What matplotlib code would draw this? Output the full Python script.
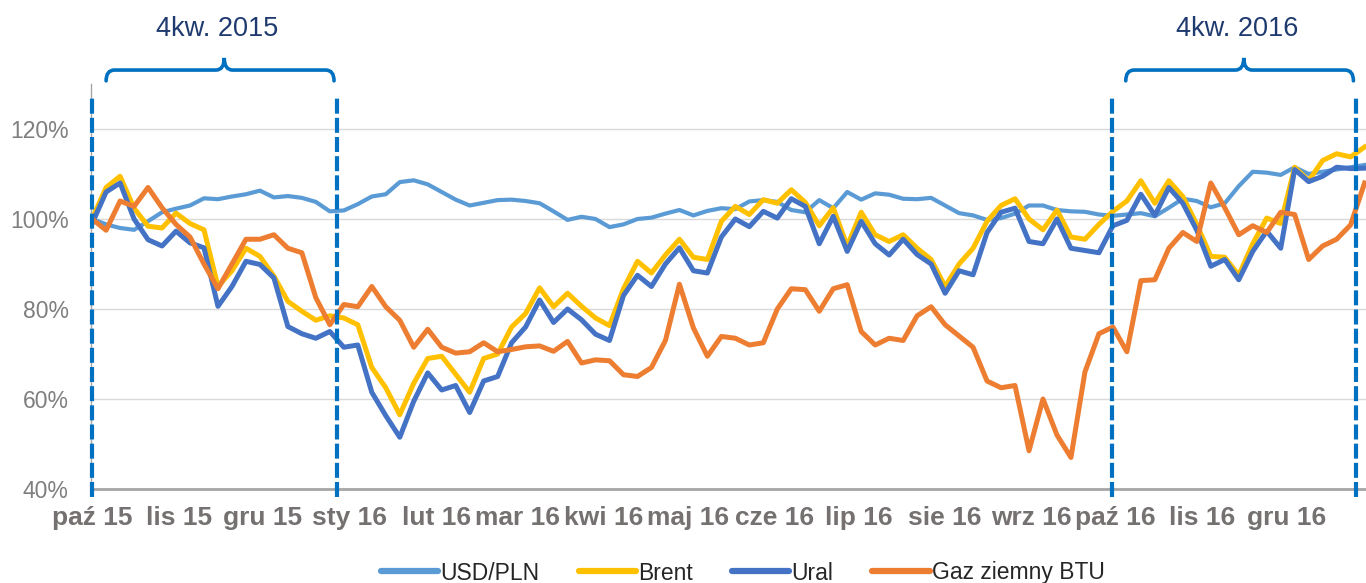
import matplotlib
matplotlib.use("Agg")
from matplotlib import pyplot as plt
from matplotlib.path import Path
from matplotlib.patches import PathPatch
import matplotlib.dates as mdates
import numpy as np
import pandas as pd

# values, one every 5 days from 1 Oct 2015
start = pd.Timestamp("2015-10-01")
step_days = 5

usd_pln = [100.0, 98.8, 98.0, 97.6, 99.5, 101.5, 102.3, 103.0, 104.6, 104.4,
           105.0, 105.5, 106.3, 104.8, 105.1, 104.7, 103.8, 101.7, 101.9, 103.3,
           105.0, 105.5, 108.2, 108.6, 107.7, 106.0, 104.3, 103.0, 103.6, 104.2,
           104.3, 104.0, 103.5, 101.7, 99.8, 100.5, 100.0, 98.2, 98.8, 100.0,
           100.3, 101.2, 102.0, 100.8, 101.8, 102.4, 102.2, 103.9, 104.2, 103.8,
           102.0, 101.5, 104.2, 102.4, 106.0, 104.3, 105.7, 105.4, 104.5, 104.4,
           104.7, 103.0, 101.3, 100.8, 99.8, 100.2, 101.2, 103.0, 103.0, 102.0,
           101.7, 101.6, 101.0, 100.7, 101.0, 101.3, 100.6, 102.5, 104.5, 104.0,
           102.6, 103.5, 107.3, 110.5, 110.3, 109.8, 111.5, 110.0, 110.5, 111.0,
           111.5, 112.0]

brent = [100.0, 107.0, 109.5, 102.4, 98.4, 98.0, 101.3, 99.0, 97.6, 85.0,
         88.5, 93.5, 91.7, 87.3, 81.7, 79.5, 77.5, 78.5, 78.0, 76.5,
         67.0, 62.5, 56.5, 63.5, 69.0, 69.5, 65.5, 61.5, 69.0, 70.0,
         76.0, 79.0, 84.7, 80.5, 83.5, 80.6, 78.0, 76.3, 84.5, 90.6,
         88.0, 92.0, 95.5, 91.5, 91.0, 99.5, 102.8, 101.0, 104.3, 103.5,
         106.5, 103.7, 98.5, 102.5, 94.0, 101.5, 96.5, 95.0, 96.5, 93.5,
         91.0, 85.0, 90.0, 93.5, 99.5, 103.0, 104.5, 100.0, 97.6, 102.0,
         96.0, 95.5, 98.8, 101.7, 104.0, 108.5, 103.5, 108.5, 105.0, 98.8,
         91.7, 91.5, 87.5, 94.5, 100.2, 99.0, 111.5, 108.5, 113.0, 114.5,
         113.8, 116.0]

ural = [99.0, 106.0, 108.0, 100.0, 95.4, 94.0, 97.3, 94.7, 93.6, 80.6,
        85.0, 90.6, 89.9, 86.9, 76.1, 74.5, 73.5, 75.0, 71.5, 72.0,
        61.5, 56.3, 51.5, 59.5, 65.8, 62.0, 63.0, 57.0, 64.0, 65.0,
        72.5, 76.0, 82.0, 77.0, 80.0, 77.6, 74.4, 73.0, 83.0, 87.5,
        85.0, 90.0, 93.6, 88.5, 88.0, 96.0, 100.0, 98.3, 101.7, 100.2,
        104.5, 102.8, 94.5, 100.6, 92.8, 99.5, 94.5, 92.0, 95.5, 92.1,
        90.0, 83.5, 88.5, 87.6, 97.0, 101.5, 102.4, 95.0, 94.5, 100.0,
        93.5, 93.0, 92.5, 98.5, 99.7, 105.5, 100.8, 107.0, 103.5, 97.5,
        89.5, 91.0, 86.5, 92.8, 97.3, 93.5, 111.0, 108.3, 109.5, 111.5,
        111.2, 111.3]

gas_btu = [100.0, 97.5, 104.0, 102.8, 107.0, 102.5, 98.8, 96.0, 90.0, 84.5,
           90.0, 95.5, 95.5, 96.5, 93.5, 92.5, 82.5, 76.5, 81.0, 80.5,
           85.0, 80.5, 77.5, 71.5, 75.5, 71.5, 70.2, 70.5, 72.5, 70.5,
           71.0, 71.6, 71.8, 70.6, 72.8, 68.0, 68.7, 68.5, 65.4, 65.0,
           67.0, 73.0, 85.5, 75.8, 69.5, 73.9, 73.5, 72.0, 72.5, 80.0,
           84.5, 84.3, 79.5, 84.5, 85.4, 75.0, 72.0, 73.5, 73.0, 78.5,
           80.5, 76.5, 74.0, 71.5, 64.0, 62.5, 63.0, 48.5, 60.0, 52.0,
           47.0, 66.0, 74.5, 76.0, 70.5, 86.3, 86.5, 93.5, 97.0, 95.0,
           108.0, 102.5, 96.5, 98.5, 97.0, 101.5, 101.0, 91.0, 94.0, 95.5,
           98.7, 108.0]

series_names = ["USD/PLN", "Brent", "Ural", "Gaz ziemny BTU"]
series_colors = ["#5B9BD5", "#FFC000", "#4472C4", "#ED7D31"]
series_widths = [3.0, 3.6, 3.6, 3.6]

month_labels = ["paź 15", "lis 15", "gru 15", "sty 16", "lut 16", "mar 16", "kwi 16",
                "maj 16", "cze 16", "lip 16", "sie 16", "wrz 16", "paź 16", "lis 16",
                "gru 16"]
y_ticks = [40, 60, 80, 100, 120]

# quarter markers: (first day, last day, label) as day offsets from start
quarter_marks = [(0.0, 87.5, "4kw. 2015"), (364.6, 452.0, "4kw. 2016")]

dates = start + pd.to_timedelta(np.arange(len(usd_pln)) * step_days, unit="D")
x = mdates.date2num(dates.to_pydatetime())
x0 = mdates.date2num(start.to_pydatetime())

fig = plt.figure(figsize=(13.66, 5.83), dpi=100)
ax = fig.add_axes([91 / 1366, 94 / 583, 1275 / 1366, 405 / 583])

lines = []
for vals, name, col, lw in zip([usd_pln, brent, ural, gas_btu], series_names,
                               series_colors, series_widths):
    ln, = ax.plot(x, vals, color=col, lw=lw, label=name, solid_joinstyle="round")
    lines.append(ln)

ax.set_xlim(x0 - 0.4, x0 + 455.5)
ax.set_ylim(40, 130)

ax.set_yticks(y_ticks)
ax.set_yticklabels([f"{v}%" for v in y_ticks])
ax.yaxis.grid(True, color="#D9D9D9", lw=1)
ax.set_axisbelow(True)

month_starts = pd.date_range("2015-10-01", "2016-12-01", freq="MS")
ax.set_xticks(mdates.date2num(month_starts.to_pydatetime()))
ax.set_xticklabels(month_labels)

for lab in ax.get_xticklabels():
    lab.set_family(["Liberation Sans", "DejaVu Sans"])
    lab.set_fontweight("bold")
    lab.set_fontsize(19)
    lab.set_color("#767171")
for lab in ax.get_yticklabels():
    lab.set_family(["Liberation Sans", "DejaVu Sans"])
    lab.set_fontsize(16.5)
    lab.set_color("#7F7F7F")

ax.tick_params(axis="x", length=0, pad=12)
ax.tick_params(axis="y", length=0, pad=16)

for side in ["top", "right"]:
    ax.spines[side].set_visible(False)
ax.spines["bottom"].set_color("#A6A6A6")
ax.spines["bottom"].set_linewidth(2)
ax.spines["left"].set_color("#A6A6A6")
ax.spines["left"].set_linewidth(1)

# dashed quarter boundaries and brackets
blue = "#0070C0"
for d_start, d_end, text in quarter_marks:
    for d in (d_start, d_end):
        ax.plot([x0 + d, x0 + d], [38.2, 127.6], color=blue, lw=3,
                linestyle=(0, (3.6, 1.0)), clip_on=False, zorder=5)

    left = x0 + d_start + 5
    right = x0 + d_end - 1
    mid = (left + right) / 2 + 1.5
    r = 3.0
    y_end, y_bar, y_tip = 130.7, 133.1, 135.8
    verts = [(left, y_end), (left, y_bar), (left + r, y_bar),
             (mid - r, y_bar), (mid, y_bar), (mid, y_tip),
             (mid, y_bar), (mid + r, y_bar),
             (right - r, y_bar), (right, y_bar), (right, y_end)]
    codes = [Path.MOVETO, Path.CURVE3, Path.CURVE3,
             Path.LINETO, Path.CURVE3, Path.CURVE3,
             Path.CURVE3, Path.CURVE3,
             Path.LINETO, Path.CURVE3, Path.CURVE3]
    ax.add_patch(PathPatch(Path(verts, codes), facecolor="none", edgecolor=blue,
                           lw=2.6, clip_on=False, capstyle="round"))
    ax.text(mid - 2.5, 142.2, text, ha="center", va="center", fontsize=19.5,
            color="#1F3A6E", family=["Liberation Sans", "DejaVu Sans"], clip_on=False)

leg = fig.legend(handles=lines, loc="center", bbox_to_anchor=(743 / 1366, 10 / 583),
                 ncol=4, frameon=False, handlelength=2.5, handletextpad=0.1,
                 columnspacing=1.7, prop={"family": ["Liberation Sans", "DejaVu Sans"],
                                          "size": 16.5})
for t in leg.get_texts():
    t.set_color("#262626")
for h in leg.legend_handles:
    h.set_linewidth(4.5)
    h.set_solid_capstyle("round")

fig.savefig("out.png", dpi=100)
